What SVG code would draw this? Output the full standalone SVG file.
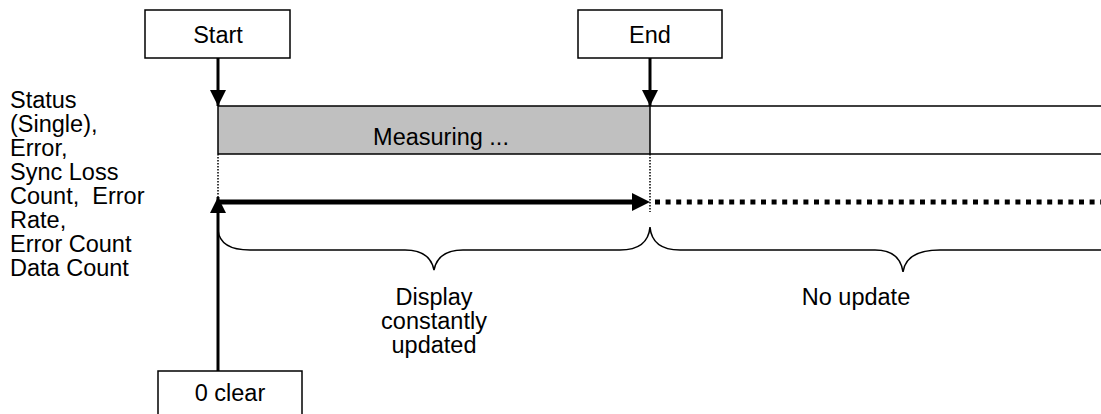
<svg xmlns="http://www.w3.org/2000/svg" width="1101" height="414" viewBox="0 0 1101 414">
<style>
text{font-family:"Liberation Sans",Arial,sans-serif;font-size:23.5px;fill:#000}
.box{fill:#fff;stroke:#000;stroke-width:1.5}
.thin{fill:none;stroke:#000;stroke-width:1.5}
.dot{fill:none;stroke:#000;stroke-width:1.5;stroke-dasharray:1.5 1.5}
.thick{fill:none;stroke:#000;stroke-width:3}
</style>
<defs>
<marker id="ah" viewBox="0 0 10 10" refX="10" refY="5" markerWidth="16" markerHeight="16" markerUnits="userSpaceOnUse" orient="auto"><path d="M0,0 L10,5 L0,10 z" fill="#000"/></marker>
<marker id="ah2" viewBox="0 0 10 10" refX="10" refY="5" markerWidth="18" markerHeight="18" markerUnits="userSpaceOnUse" orient="auto"><path d="M0,0 L10,5 L0,10 z" fill="#000"/></marker>
</defs>
<g id="signal-label">
<text x="10" y="108">Status</text>
<text x="10" y="132">(Single),</text>
<text x="10" y="156">Error,</text>
<text x="10" y="180">Sync Loss</text>
<text x="10" y="204">Count,&#160; Error</text>
<text x="10" y="228">Rate,</text>
<text x="10" y="252">Error Count</text>
<text x="10" y="276">Data Count</text>
</g>
<g id="timeline">
<rect x="218" y="106" width="432" height="48" fill="#c0c0c0"/>
<path class="thin" d="M218,106 H1101 M218,154 H1101 M218,106 V154 M650,106 V154"/>
<text x="441" y="145" text-anchor="middle">Measuring ...</text>
</g>
<g id="start">
<rect class="box" x="145" y="10" width="145" height="48"/>
<text x="218" y="43" text-anchor="middle">Start</text>
</g>
<g id="end">
<rect class="box" x="578" y="10" width="144" height="48"/>
<text x="650" y="43" text-anchor="middle">End</text>
</g>
<g id="clear">
<rect class="box" x="158" y="371" width="144" height="50"/>
<text x="230" y="401" text-anchor="middle">0 clear</text>
</g>
<g id="connectors">
<path class="thick" d="M218,58 V106" marker-end="url(#ah)"/>
<path class="thick" d="M650,58 V106" marker-end="url(#ah)"/>
<path class="dot" d="M218,154 V200 M650,154 V212"/>
<path class="thick" d="M218,371 V197" marker-end="url(#ah)"/>
<path fill="none" stroke="#000" stroke-width="5" d="M218,202 H636"/>
<path fill="none" stroke="#000" stroke-width="0" d="M218,202 H650" marker-end="url(#ah2)"/>
<path fill="none" stroke="#000" stroke-width="5" stroke-dasharray="5 5.6" d="M655,202 H1101"/>
<path class="thin" d="M218,230 Q220,250 250,250 H405 Q430,250 434,270 Q438,250 463,250 H620 Q648,250 650,227 Q652,250 680,250 H875 Q900,250 903,272 Q906,250 940,250 H1101"/>
</g>
<g id="brace-labels">
<text x="434" y="305" text-anchor="middle">Display</text>
<text x="434" y="329" text-anchor="middle">constantly</text>
<text x="434" y="353" text-anchor="middle">updated</text>
<text x="856" y="305" text-anchor="middle">No update</text>
</g>
</svg>
